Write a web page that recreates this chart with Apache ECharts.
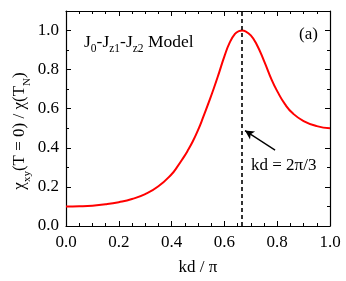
<!DOCTYPE html>
<html><head><meta charset="utf-8">
<script src="https://cdn.jsdelivr.net/npm/echarts@6/dist/echarts.min.js"></script>
<style>html,body{margin:0;padding:0;background:#fff}#c{width:346px;height:281px}</style>
</head><body><div id="c"></div>
<script>
var kd = [0.00,0.05,0.10,0.15,0.20,0.25,0.30,0.35,0.40,0.42,0.44,0.46,0.48,0.50,0.52,0.54,0.56,0.58,0.60,0.62,0.64,0.655,0.667,0.68,0.70,0.72,0.75,0.78,0.80,0.83,0.86,0.90,0.95,1.00];
var chi = [0.100,0.101,0.104,0.111,0.122,0.138,0.163,0.203,0.265,0.300,0.340,0.383,0.432,0.490,0.558,0.630,0.705,0.785,0.868,0.938,0.983,0.997,1.000,0.996,0.975,0.935,0.845,0.745,0.690,0.622,0.575,0.537,0.511,0.500];
var xTicks = [0.0,0.2,0.4,0.6,0.8,1.0];
var yTicks = [0.0,0.2,0.4,0.6,0.8,1.0];
var markX = 2/3;
var arrowFrom = [0.792, 0.388];
var arrowTo = [0.678, 0.488];

var font = 'Liberation Serif';
var chart = echarts.init(document.getElementById('c'));
function ax(extra){
  return Object.assign({
    type:'value',
    axisLine:{show:true,onZero:false,lineStyle:{color:'#000',width:1.2}},
    axisTick:{show:true,inside:true,length:5,lineStyle:{color:'#000',width:1}},
    splitLine:{show:false}
  }, extra);
}
function fmt(v){return v.toFixed(1);}
chart.setOption({
  animation:false,
  grid:{left:66,right:16,top:11,bottom:50},
  xAxis:[
    ax({min:0,max:1,interval:0.2,position:'bottom',
      minorTick:{show:true,splitNumber:4,length:3,lineStyle:{color:'#000'}},
      axisLabel:{fontFamily:font,fontSize:17,color:'#000',margin:8,formatter:fmt},
      name:'kd / π',nameLocation:'middle',nameGap:33,
      nameTextStyle:{fontFamily:font,fontSize:17,color:'#000'}}),
    ax({min:0,max:1,interval:0.2,position:'top',
      minorTick:{show:true,splitNumber:4,length:3,lineStyle:{color:'#000'}},
      axisLabel:{show:false}})
  ],
  yAxis:[
    ax({min:0,max:1.1,interval:0.2,position:'left',
      minorTick:{show:true,splitNumber:2,length:3,lineStyle:{color:'#000'}},
      axisLabel:{fontFamily:font,fontSize:17,color:'#000',margin:7,
        formatter:function(v){return v<=1.0001?fmt(v):'';}}}),
    ax({min:0,max:1.1,interval:0.2,position:'right',
      minorTick:{show:true,splitNumber:2,length:3,lineStyle:{color:'#000'}},
      axisLabel:{show:false}})
  ],
  series:[{
    type:'line',xAxisIndex:0,yAxisIndex:0,
    data:kd.map(function(x,i){return [x,chi[i]];}),
    smooth:0.5,showSymbol:false,
    lineStyle:{color:'#ff0000',width:2},
    markLine:{silent:true,animation:false,label:{show:false},
      data:[
        [{xAxis:markX,yAxis:0,symbol:'none',lineStyle:{type:[4,3],color:'#000',width:1.6}},
         {xAxis:markX,yAxis:1.1,symbol:'none'}],
        [{coord:arrowFrom,symbol:'none',lineStyle:{type:'solid',color:'#000',width:1.3}},
         {coord:arrowTo,symbol:'arrow',symbolSize:[7,9]}]
      ]}
  }],
  graphic:[
    {type:'text',left:84,top:33,style:{
      text:'{c|J}{s|0}{c|-J}{s|z1}{c|-J}{s|z2}{c| Model}',
      rich:{c:{fontFamily:font,fontSize:17.5,fill:'#000',lineHeight:22,verticalAlign:'top'},
            s:{fontFamily:font,fontSize:11.5,fill:'#000',lineHeight:11,verticalAlign:'bottom'}}}},
    {type:'text',left:299,top:26,style:{text:'(a)',fontFamily:font,fontSize:17,fill:'#000'}},
    {type:'text',left:251,top:157,style:{text:'kd = 2π/3',fontFamily:font,fontSize:17,fill:'#000'}},
    {type:'text',x:22,y:131,rotation:Math.PI/2,style:{
      text:'{c|χ}{s|xy}{c|(T = 0) / χ(T}{s|N}{c|)}',
      align:'center',verticalAlign:'middle',
      rich:{c:{fontFamily:font,fontSize:17,fill:'#000',lineHeight:22,verticalAlign:'top'},
            s:{fontFamily:font,fontSize:11,fill:'#000',lineHeight:11,verticalAlign:'bottom'}}}}
  ]
});
</script></body></html>
